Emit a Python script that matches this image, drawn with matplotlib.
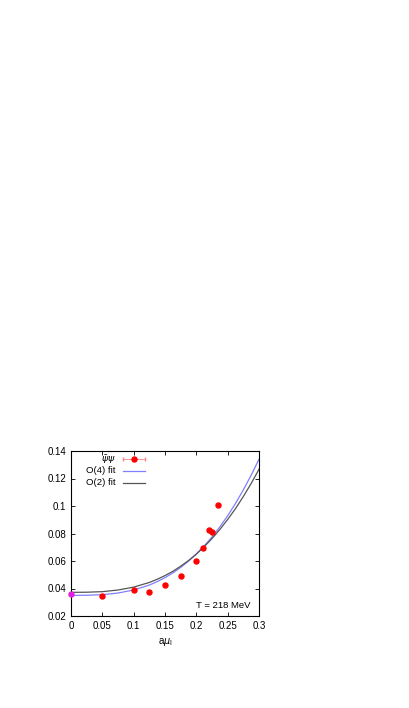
import matplotlib
matplotlib.use('Agg')
import matplotlib.pyplot as plt

plt.rcParams['font.family'] = ['Liberation Sans', 'DejaVu Sans']

# chiral condensate vs a*mu_l
mu = [0.05, 0.1, 0.125, 0.15, 0.175, 0.2, 0.21, 0.22, 0.225, 0.235]
pbp = [0.0345, 0.0389, 0.0371, 0.0423, 0.0493, 0.0602, 0.0697, 0.0825, 0.0808, 0.1005]
mu0 = [0.0]
pbp0 = [0.0360]

# fit curves
fit_x = [0.0, 0.025, 0.05, 0.075, 0.1, 0.125, 0.1375, 0.15, 0.1625, 0.175, 0.1875, 0.2,
         0.2125, 0.225, 0.2375, 0.25, 0.2625, 0.275, 0.2875, 0.3]
fit_o4 = [0.0350, 0.0351, 0.0355, 0.0367, 0.0389, 0.0425, 0.0450, 0.0479, 0.0513, 0.0553,
          0.0599, 0.0651, 0.0709, 0.0775, 0.0848, 0.0929, 0.1019, 0.1117, 0.1224, 0.1340]
fit_o2 = [0.0372, 0.0373, 0.0377, 0.0389, 0.0410, 0.0444, 0.0467, 0.0494, 0.0525, 0.0562,
          0.0603, 0.0650, 0.0704, 0.0763, 0.0829, 0.0902, 0.0981, 0.1069, 0.1164, 0.1267]

xticks = [0, 0.05, 0.1, 0.15, 0.2, 0.25, 0.3]
xticklabels = ['0', '0.05', '0.1', '0.15', '0.2', '0.25', '0.3']
yticks = [0.02, 0.04, 0.06, 0.08, 0.1, 0.12, 0.14]
yticklabels = ['0.02', '0.04', '0.06', '0.08', '0.1', '0.12', '0.14']

fig = plt.figure(figsize=(4.09, 7.08), dpi=100)
ax = fig.add_axes([71 / 409, 1 - 616 / 708, 188 / 409, 165 / 708])

ax.plot(fit_x, fit_o4, color='#7f7fff', lw=0.9)
ax.plot(fit_x, fit_o2, color='#555555', lw=0.9)
ax.errorbar(mu, pbp, xerr=0, yerr=0.0005, fmt='o', color='red', ms=3.6,
            ecolor='#ff8080', elinewidth=0.6, capsize=0)
ax.plot(mu0, pbp0, 'o', color='#e020e0', ms=3.6, clip_on=False, zorder=5)

ax.set_xlim(0, 0.3)
ax.set_ylim(0.02, 0.14)
ax.set_xticks(xticks)
ax.set_xticklabels(xticklabels)
ax.set_yticks(yticks)
ax.set_yticklabels(yticklabels)
ax.tick_params(direction='in', top=True, right=True, labelsize=7, length=3, width=0.6)
for s in ax.spines.values():
    s.set_linewidth(0.8)
ax.set_xlabel(r'a$\mu_{\rm l}$', fontsize=7, labelpad=4)

# legend in gnuplot style: text right-aligned, sample on the right
tx = 0.239
lx = [0.275, 0.394]
rows = [0.950, 0.880, 0.808]
ax.text(tx, rows[0], r'$\bar{\psi}\psi$', transform=ax.transAxes, ha='right', va='center', fontsize=6.8)
ax.errorbar([0.334], [rows[0]], xerr=[0.059], fmt='o', color='red', ms=3.6,
            ecolor='#ff8080', elinewidth=0.6, capsize=1.5, transform=ax.transAxes, clip_on=False)
ax.text(tx, rows[1], 'O(4) fit', transform=ax.transAxes, ha='right', va='center', fontsize=6.8)
ax.plot(lx, [rows[1]] * 2, color='#7f7fff', lw=0.9, transform=ax.transAxes)
ax.text(tx, rows[2], 'O(2) fit', transform=ax.transAxes, ha='right', va='center', fontsize=6.8)
ax.plot(lx, [rows[2]] * 2, color='#555555', lw=0.9, transform=ax.transAxes)

ax.text(0.956, 0.062, 'T = 218 MeV', transform=ax.transAxes, ha='right', va='center', fontsize=6.8)

fig.savefig('out.png', dpi=100)
